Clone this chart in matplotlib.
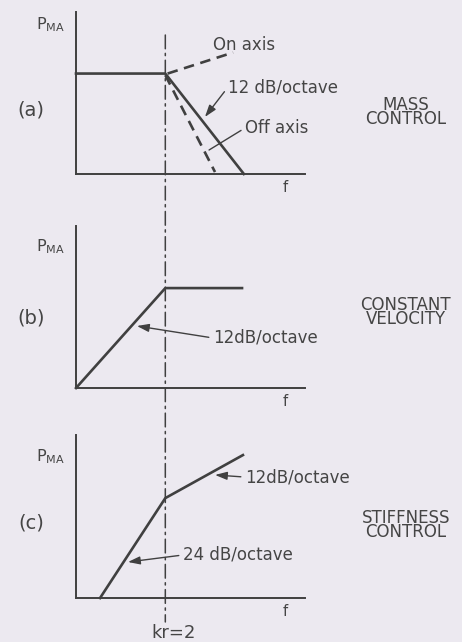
import matplotlib
matplotlib.use("Agg")
import matplotlib.pyplot as plt
from matplotlib.patches import ConnectionPatch

# frequency axis in arbitrary log units, kr=2 at KNEE
KNEE = 3.9

# (a) mass control
a_solid_x = [0, KNEE, 7.33]
a_solid_y = [6.2, 6.2, 0]
a_off_x = [KNEE, 6.07]
a_off_y = [6.1, 0.12]
a_on_x = [4.0, 6.86]
a_on_y = [6.2, 7.5]

# (b) constant velocity
b_x = [0, KNEE, 7.25]
b_y = [0, 6.17, 6.17]

# (c) stiffness control
c_x = [1.05, KNEE, 7.29]
c_y = [0, 6.13, 8.77]

panel_tags = ["(a)", "(b)", "(c)"]
panel_names = ["MASS\nCONTROL", "CONSTANT\nVELOCITY", "STIFFNESS\nCONTROL"]

bg = "#ECE9F0"
ink = "#404040"
txt = "#454545"
plt.rcParams["mathtext.fontset"] = "dejavusans"

fig = plt.figure(figsize=(4.62, 6.42), dpi=100, facecolor=bg)
ax_a = fig.add_axes([0.1645, 0.7290, 0.4957, 0.2523])
ax_b = fig.add_axes([0.1645, 0.3956, 0.4957, 0.2523])
ax_c = fig.add_axes([0.1645, 0.0685, 0.4957, 0.2539])
axes = [ax_a, ax_b, ax_c]

for ax, tag, name in zip(axes, panel_tags, panel_names):
    ax.set_xlim(0, 10)
    ax.set_ylim(0, 10)
    ax.patch.set_visible(False)
    for s in ["top", "right"]:
        ax.spines[s].set_visible(False)
    for s in ["left", "bottom"]:
        ax.spines[s].set_color(ink)
        ax.spines[s].set_linewidth(1.4)
    ax.set_xticks([])
    ax.set_yticks([])
    ax.text(9.13, -0.85, "f", ha="center", va="center", fontsize=10.5, color=txt,
            clip_on=False)

ax_a.text(14.4, 3.85, panel_names[0], ha="center", va="center", fontsize=12,
          color=txt, linespacing=0.72, clip_on=False)
ax_b.text(14.4, 4.7, panel_names[1], ha="center", va="center", fontsize=12,
          color=txt, linespacing=0.72, clip_on=False)
ax_c.text(14.4, 4.5, panel_names[2], ha="center", va="center", fontsize=12,
          color=txt, linespacing=0.72, clip_on=False)

lw = 1.9
ax_a.plot(a_solid_x, a_solid_y, color=ink, lw=lw, clip_on=False)
ax_a.plot(a_off_x, a_off_y, color=ink, lw=lw, ls=(0, (4, 2.5)), clip_on=False)
ax_a.plot(a_on_x, a_on_y, color=ink, lw=lw, ls=(0, (4, 2.5)), clip_on=False)
ax_b.plot(b_x, b_y, color=ink, lw=lw, clip_on=False)
ax_c.plot(c_x, c_y, color=ink, lw=lw, clip_on=False)

# labels
ylab = r"$\mathrm{P}_{\mathrm{MA}}$"
ax_a.text(-1.13, 9.2, ylab, ha="center", va="center", fontsize=11.5, color=txt, clip_on=False)
ax_b.text(-1.13, 8.7, ylab, ha="center", va="center", fontsize=11.5, color=txt, clip_on=False)
ax_c.text(-1.13, 8.65, ylab, ha="center", va="center", fontsize=11.5, color=txt, clip_on=False)
ax_a.text(-1.97, 3.95, panel_tags[0], ha="center", va="center", fontsize=14, color=txt, clip_on=False)
ax_b.text(-1.97, 4.32, panel_tags[1], ha="center", va="center", fontsize=14, color=txt, clip_on=False)
ax_c.text(-1.97, 4.6, panel_tags[2], ha="center", va="center", fontsize=14, color=txt, clip_on=False)

arrow = dict(arrowstyle="-|>,head_length=0.6,head_width=0.2", color=ink, lw=1.0,
             relpos=(0, 0.5), shrinkA=1, shrinkB=0)
line = dict(arrowstyle="-", color=ink, lw=1.0, relpos=(0, 0.5), shrinkA=1, shrinkB=0)

fs = 12
ax_a.text(5.98, 7.96, "On axis", ha="left", va="center", fontsize=fs, color=txt)
ax_a.annotate("12 dB/octave", xy=(5.63, 3.52), xytext=(6.64, 5.37), ha="left",
              va="center", fontsize=fs, color=txt, arrowprops=arrow, annotation_clip=False)
ax_a.annotate("Off axis", xy=(5.81, 1.48), xytext=(7.38, 2.84), ha="left",
              va="center", fontsize=fs, color=txt, arrowprops=line, annotation_clip=False)
ax_b.annotate("12dB/octave", xy=(2.66, 3.83), xytext=(5.98, 3.09), ha="left",
              va="center", fontsize=fs, color=txt, arrowprops=arrow, annotation_clip=False)
ax_c.annotate("12dB/octave", xy=(6.07, 7.55), xytext=(7.38, 7.42), ha="left",
              va="center", fontsize=fs, color=txt, arrowprops=arrow, annotation_clip=False)
ax_c.annotate("24 dB/octave", xy=(2.27, 2.21), xytext=(4.67, 2.64), ha="left",
              va="center", fontsize=fs, color=txt, arrowprops=arrow, annotation_clip=False)
ax_c.text(4.28, -2.12, "kr=2", ha="center", va="center", fontsize=13, color=txt, clip_on=False)

# kr=2 dash-dot line through all three panels
con = ConnectionPatch(xyA=(KNEE, 8.58), coordsA=ax_a.transData,
                      xyB=(KNEE, -1.47), coordsB=ax_c.transData,
                      color=ink, lw=1.1, ls=(0, (9, 3, 1.5, 3)))
fig.add_artist(con)

fig.savefig("out.png", dpi=100, facecolor=bg)
